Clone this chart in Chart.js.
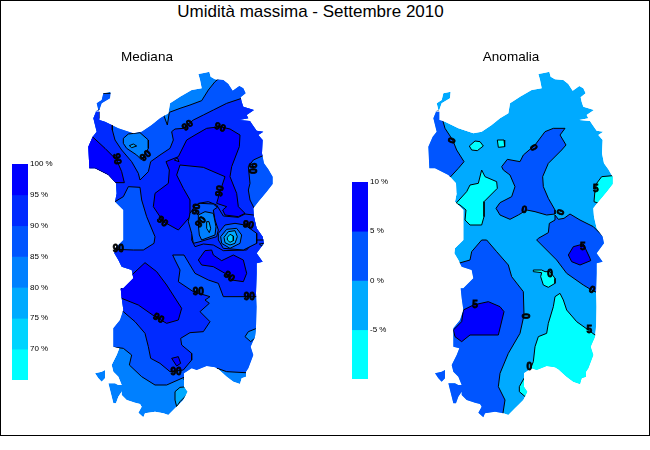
<!DOCTYPE html>
<html>
<head>
<meta charset="utf-8">
<title>Umidità massima - Settembre 2010</title>
<script src="https://cdn.jsdelivr.net/npm/chart.js@4"></script>
<style>
  html, body { margin: 0; padding: 0; background: #fff; }
  #frame { position: absolute; left: 0; top: 0; width: 650px; height: 436px; box-sizing: border-box; border: 1px solid #000; }
  #title { position: absolute; left: 0; top: 2px; width: 621px; text-align: center; font: 17px "Liberation Sans", Arial, sans-serif; color: #000; }
  canvas { position: absolute; }
</style>
</head>
<body>
<div id="frame"></div>
<div id="title">Umidità massima - Settembre 2010</div>
<canvas id="mapMediana" style="left:0;top:0"></canvas>
<canvas id="mapAnomalia" style="left:340px;top:0"></canvas>
<canvas id="barMediana" style="left:12px;top:154px"></canvas>
<canvas id="barAnomalia" style="left:352px;top:172px"></canvas>
<script>
// Coast outline, in map units (same units on both panels)
const COAST_MAIN = [[355,42],[375,38],[388,35],[392,50],[405,58],[430,60],[445,72],[458,92],[478,78],[490,85],[497,100],[482,112],[485,125],[490,140],[505,145],[522,150],[500,165],[505,175],[478,180],[510,183],[518,195],[530,212],[550,215],[535,225],[548,240],[546,280],[552,310],[565,328],[578,350],[578,372],[560,395],[535,425],[520,445],[522,470],[530,505],[548,530],[552,550],[530,580],[548,605],[530,610],[530,640],[528,700],[530,740],[528,800],[525,830],[512,860],[520,885],[505,925],[498,935],[498,950],[485,955],[480,972],[460,965],[440,950],[415,928],[405,922],[380,918],[350,930],[335,925],[312,940],[312,980],[322,995],[310,1020],[295,1035],[285,1045],[265,1065],[250,1060],[225,1055],[195,1060],[190,1072],[175,1058],[185,1040],[180,1032],[165,1028],[140,1020],[125,1005],[125,975],[115,950],[100,935],[95,915],[110,885],[118,865],[100,860],[100,805],[120,780],[130,750],[125,715],[122,685],[130,685],[160,655],[155,630],[125,620],[115,600],[103,580],[105,565],[130,540],[130,490],[130,450],[105,425],[110,400],[108,370],[85,345],[45,325],[28,325],[25,260],[38,230],[50,215],[40,175],[48,155],[58,155],[58,180],[75,185],[115,205],[160,220],[185,215],[215,195],[240,175],[265,160],[270,130],[300,110],[335,90],[365,85],[360,60]];
const COAST_ASINARA = [[45,155],[55,150],[50,130],[65,120],[70,100],[92,95],[90,115],[65,130],[58,150]];
const COAST_ANTIOCO = [[85,970],[105,970],[115,975],[130,975],[125,995],[115,1010],[108,1030],[100,1030],[90,990]];
const COAST_PIETRO = [[45,940],[65,935],[75,930],[75,955],[65,965],[55,955]];

// Mediana: filled classes, from the lowest up
const MED_85 = [[250,100],[253,170],[262,195],[268,157],[300,145],[330,135],[365,122],[385,90],[405,65],[450,30],[650,30],[650,938],[495,938],[440,935],[412,925],[412,960],[314,960],[312,952],[260,975],[225,975],[185,950],[148,915],[155,885],[130,865],[105,862],[0,862],[0,100]];
const MED_90 = [[485,115],[560,115],[560,282],[520,300],[505,320],[510,370],[505,390],[510,420],[525,450],[590,450],[590,710],[530,710],[495,710],[430,710],[415,670],[385,660],[345,640],[312,585],[278,585],[285,600],[300,630],[295,665],[340,695],[390,710],[375,720],[388,730],[360,755],[390,785],[370,815],[330,818],[302,835],[305,855],[335,880],[335,900],[310,930],[270,935],[240,910],[212,895],[205,860],[195,820],[165,785],[130,755],[0,755],[0,568],[105,568],[160,570],[190,570],[222,550],[225,530],[200,470],[185,420],[180,382],[145,380],[130,410],[105,425],[0,425],[0,150],[60,150],[60,175],[97,175],[97,210],[105,240],[125,270],[155,305],[175,340],[180,360],[205,335],[212,305],[240,285],[270,265],[280,240],[275,215],[285,207],[310,205],[340,180],[370,165],[400,150],[440,130]];
const MED_95_NORTH = [[258,305],[268,330],[265,370],[225,400],[220,440],[250,485],[295,510],[330,470],[330,420],[310,385],[290,345],[300,315],[370,322],[435,350],[420,395],[410,430],[440,440],[428,450],[435,465],[475,470],[495,460],[475,440],[470,400],[450,350],[455,320],[478,260],[480,225],[450,207],[420,200],[380,205],[345,225],[320,240],[295,290]];
const MED_95_WEST = [[35,228],[75,265],[110,300],[125,335],[133,368],[105,368],[85,345],[45,325],[10,325],[10,250]];
const MED_95_CENTRE = [[125,685],[150,650],[195,608],[230,635],[260,675],[305,745],[295,780],[260,790],[225,770],[175,735],[125,715],[110,700]];
const MED_95_EAST = [[355,600],[375,572],[395,570],[400,585],[425,602],[460,585],[490,600],[500,640],[490,665],[455,660],[435,640],[400,620],[365,615]];
const MED_95_SOUTH = [[275,895],[295,890],[302,910],[290,918]];
const MED_90_LOBES = [[335,540],[338,500],[342,470],[355,430],[385,425],[410,435],[430,468],[475,472],[495,462],[520,465],[560,470],[560,540],[525,540],[500,570],[430,572],[400,555],[370,552],[345,560]];
const MED_90_SPECK = [[283,300],[292,293],[297,305]];
const MED_LEFT_1 = [[347,435],[360,430],[400,432],[412,442],[400,450],[405,480],[415,510],[410,530],[360,545],[340,550],[335,520],[325,485],[330,460]];
const MED_LEFT_2 = [[355,465],[375,455],[400,460],[408,500],[405,525],[365,540],[358,525],[355,495]];
const MED_LEFT_3 = [[380,485],[387,485],[392,505],[388,518],[380,505]];
const MED_RING_1 = [[415,520],[435,495],[465,490],[495,495],[530,520],[530,550],[490,570],[430,565],[415,540]];
const MED_RING_2 = [[422,530],[440,508],[470,505],[485,525],[480,550],[450,565],[425,550]];
const MED_RING_3 = [[432,532],[445,515],[465,512],[472,530],[465,550],[450,555],[435,548]];
const MED_RING_4 = [[442,532],[450,523],[460,528],[460,542],[450,547],[442,540]];
const MED_85_NW = [[130,235],[145,222],[180,218],[205,240],[205,265],[185,300],[170,285],[140,265],[130,250]];
const MED_80_NW = [[148,257],[160,252],[170,258],[155,263]];
const MED_85_EAST = [[495,830],[505,815],[530,805],[530,830],[512,845]];
const MED_85_SPECK = [[538,552],[550,550],[548,560]];
const MED_75_SOUTH = [[285,995],[300,982],[325,980],[325,1000],[300,1025],[290,1040],[285,1020]];

// Mediana: isoline labels
const MED_LABEL_X = [323,420,110,197,515,420,350,247,363,505,115,447,355,235,508,288];
const MED_LABEL_Y = [197,203,297,288,325,393,448,485,487,495,568,650,698,775,712,937];
const MED_LABEL_TEXT = ['90','90','90','90','90','90','90','90','90','90','90','90','90','90','90','90'];
const MED_LABEL_ANGLE = [-40,20,80,-40,90,-80,-80,40,-50,10,0,40,0,30,0,0];

// Anomalia: filled classes
const ANO_NW = [[75,205],[98,240],[110,270],[132,305],[115,325],[90,352],[0,352],[0,152],[60,152]];
const ANO_CENTRE = [[245,320],[262,298],[300,305],[310,285],[345,255],[375,215],[400,205],[435,205],[420,225],[438,255],[425,270],[385,310],[368,350],[370,380],[385,415],[405,450],[405,462],[380,465],[345,455],[320,450],[295,465],[270,478],[240,465],[228,445],[240,428],[275,410],[285,380],[270,345],[250,330]];
const ANO_EAST = [[405,465],[415,478],[432,475],[450,462],[480,480],[520,500],[550,530],[700,530],[700,700],[535,700],[515,690],[490,675],[440,640],[410,600],[380,570],[350,540],[355,535],[385,518],[388,490],[405,480]];
const ANO_WEST = [[108,612],[150,600],[155,575],[185,540],[200,540],[230,575],[265,615],[275,650],[310,695],[312,765],[300,820],[265,880],[240,940],[235,980],[255,1020],[248,1065],[240,1110],[0,1110],[0,612]];
const ANO_EAST_CORE = [[445,585],[460,560],[490,552],[510,595],[512,602],[480,615],[455,605]];
const ANO_WEST_CORE = [[130,750],[160,735],[205,725],[240,740],[252,755],[235,825],[150,825],[125,845],[105,830],[100,810],[125,785]];
const ANO_LOW_NORTH = [[108,430],[140,395],[150,375],[175,370],[185,330],[195,350],[230,365],[232,385],[192,425],[192,470],[185,495],[150,495],[135,480],[138,450],[120,435]];
const ANO_LOW_A = [[148,258],[165,243],[180,245],[190,258],[172,272],[155,270]];
const ANO_LOW_B = [[232,240],[252,240],[254,260],[235,262]];
const ANO_LOW_EAST = [[545,350],[600,345],[600,400],[555,410],[535,430],[522,425],[525,390],[530,370]];
const ANO_LOW_SOUTH = [[405,710],[420,700],[430,720],[440,750],[470,785],[505,810],[525,825],[600,825],[600,1015],[330,1015],[318,1012],[298,995],[298,980],[312,955],[328,935],[340,905],[345,860],[355,830],[380,820],[385,790],[400,740]];
const ANO_LOW_MID = [[340,630],[365,630],[375,635],[390,635],[405,655],[405,670],[385,682],[370,675],[362,650],[365,638],[340,635]];

// Anomalia: isoline labels
const ANO_LABEL_X = [97,340,313,423,527,488,390,515,508,328,313,165];
const ANO_LABEL_Y = [242,263,450,457,388,562,643,690,810,923,768,735];
const ANO_LABEL_TEXT = ['0','0','0','0','5','5','0','0','5','0','0','5'];
const ANO_LABEL_ANGLE = [-70,60,10,-70,0,0,0,30,0,0,90,0];

// Colour bars
const MED_BAR_LOW = [95,90,85,80,75,70,65];
const MED_BAR_HIGH = [100,95,90,85,80,75,70];
const ANO_BAR_LOW = [5,0,-5,-10];
const ANO_BAR_HIGH = [10,5,0,-5];

const MED_COLORS = ['#0000FF','#002AFF','#0055FF','#0080FF','#00AAFF','#00D4FF','#00FFFF'];
const ANO_COLORS = ['#0000FF','#0055FF','#00AAFF','#00FFFF'];

const C95 = MED_COLORS[0], C90 = MED_COLORS[1], C85 = MED_COLORS[2], C80 = MED_COLORS[3], C75 = MED_COLORS[4], C70 = MED_COLORS[5];
const A5 = ANO_COLORS[0], A0 = ANO_COLORS[1], AM5 = ANO_COLORS[2], AM10 = ANO_COLORS[3];

const COAST_PARTS = [COAST_MAIN, COAST_ASINARA, COAST_ANTIOCO, COAST_PIETRO];

const MED_LAYERS = [
  [MED_85, C85], [MED_90, C90], [MED_90_LOBES, C90],
  [MED_95_NORTH, C95], [MED_95_WEST, C95], [MED_95_CENTRE, C95], [MED_95_EAST, C95], [MED_95_SOUTH, C95],
  [MED_90_SPECK, C90],
  [MED_LEFT_1, C85], [MED_LEFT_2, C80], [MED_LEFT_3, C75],
  [MED_RING_1, C85], [MED_RING_2, C80], [MED_RING_3, C75], [MED_RING_4, C70],
  [MED_85_NW, C80], [MED_80_NW, C75], [MED_85_EAST, C80], [MED_85_SPECK, C85], [MED_75_SOUTH, C75]
];
const ANO_LAYERS = [
  [ANO_NW, A0], [ANO_CENTRE, A0], [ANO_EAST, A0], [ANO_WEST, A0],
  [ANO_EAST_CORE, A5], [ANO_WEST_CORE, A5],
  [ANO_LOW_NORTH, AM10], [ANO_LOW_A, AM10], [ANO_LOW_B, AM10], [ANO_LOW_EAST, AM10], [ANO_LOW_SOUTH, AM10], [ANO_LOW_MID, AM10]
];

function polygon(points, color, lineWidth) {
  const closed = points.concat([points[0]]);
  return {
    data: closed.map(p => ({ x: p[0], y: p[1] })),
    showLine: true,
    fill: 'shape',
    backgroundColor: color,
    borderColor: '#000',
    borderWidth: lineWidth,
    pointRadius: 0,
    tension: 0
  };
}

// Clips the classes to the coast and writes the isoline labels and the panel name
function islandPlugin(labels, panelName, panelX) {
  return {
    id: 'island',
    beforeDatasetsDraw(chart) {
      const { x, y } = chart.scales;
      const ctx = chart.ctx;
      ctx.save();
      ctx.beginPath();
      COAST_PARTS.forEach(part => {
        part.forEach((p, i) => {
          const px = x.getPixelForValue(p[0]);
          const py = y.getPixelForValue(p[1]);
          if (i === 0) ctx.moveTo(px, py); else ctx.lineTo(px, py);
        });
        ctx.closePath();
      });
      ctx.clip();
    },
    afterDatasetsDraw(chart) {
      const { x, y } = chart.scales;
      const ctx = chart.ctx;
      ctx.restore();
      ctx.fillStyle = '#000';
      ctx.strokeStyle = '#000';
      ctx.lineWidth = 0.8;
      ctx.textAlign = 'center';
      ctx.textBaseline = 'middle';
      ctx.font = 'bold 10px "Liberation Sans", Arial, sans-serif';
      labels.x.forEach((lx, i) => {
        ctx.save();
        ctx.translate(x.getPixelForValue(lx), y.getPixelForValue(labels.y[i]));
        ctx.rotate(labels.angle[i] * Math.PI / 180);
        ctx.fillText(labels.text[i], 0, 0);
        ctx.strokeText(labels.text[i], 0, 0);
        ctx.restore();
      });
      ctx.font = '13.5px "Liberation Sans", Arial, sans-serif';
      ctx.fillText(panelName, x.getPixelForValue(panelX), y.getPixelForValue(-9));
    }
  };
}

function drawMap(canvasId, width, xMax, layers, baseColor, labels, panelName, panelX) {
  const canvas = document.getElementById(canvasId);
  canvas.width = width;
  canvas.height = 435;
  canvas.style.width = width + 'px';
  canvas.style.height = '435px';
  const datasets = COAST_PARTS.map(part => polygon(part, baseColor, 0))
    .concat(layers.map(l => polygon(l[0], l[1], 1)));
  // Chart.js paints the highest order first
  datasets.forEach((d, i) => { d.order = datasets.length - i; });
  new Chart(canvas, {
    type: 'scatter',
    data: { datasets },
    options: {
      responsive: false,
      animation: false,
      layout: { padding: 0 },
      scales: {
        x: { type: 'linear', display: false, min: -240, max: xMax },
        y: { type: 'linear', display: false, min: -180, max: 1125, reverse: true }
      },
      plugins: { legend: { display: false }, tooltip: { enabled: false } }
    },
    plugins: [islandPlugin(labels, panelName, panelX)]
  });
}

function drawBar(canvasId, height, low, high, colors, min, max) {
  const canvas = document.getElementById(canvasId);
  canvas.width = 60;
  canvas.height = height;
  canvas.style.width = '60px';
  canvas.style.height = height + 'px';
  new Chart(canvas, {
    type: 'bar',
    data: {
      labels: [''],
      datasets: low.map((lo, i) => ({
        data: [[lo, high[i]]],
        backgroundColor: colors[i],
        barPercentage: 1,
        categoryPercentage: 1,
        grouped: false,
        borderWidth: 0
      }))
    },
    options: {
      responsive: false,
      animation: false,
      layout: { padding: { top: 10, bottom: 8 } },
      scales: {
        x: { display: false },
        y: {
          position: 'right',
          min: min,
          max: max,
          afterFit(scale) { scale.width = 44; },
          grid: { display: false, drawTicks: false },
          border: { display: false },
          ticks: {
            stepSize: 5,
            autoSkip: false,
            padding: 2,
            color: '#000',
            font: { family: '"Liberation Sans", Arial, sans-serif', size: 8 },
            callback: v => (v === min ? '' : v + ' %')
          }
        }
      },
      plugins: { legend: { display: false }, tooltip: { enabled: false } }
    }
  });
}

drawMap('mapMediana', 340, 780, MED_LAYERS, C80,
  { x: MED_LABEL_X, y: MED_LABEL_Y, text: MED_LABEL_TEXT, angle: MED_LABEL_ANGLE }, 'Mediana', 201);
drawMap('mapAnomalia', 310, 690, ANO_LAYERS, AM5,
  { x: ANO_LABEL_X, y: ANO_LABEL_Y, text: ANO_LABEL_TEXT, angle: ANO_LABEL_ANGLE }, 'Anomalia', 273);
drawBar('barMediana', 234, MED_BAR_LOW, MED_BAR_HIGH, MED_COLORS, 65, 100);
drawBar('barAnomalia', 215, ANO_BAR_LOW, ANO_BAR_HIGH, ANO_COLORS, -10, 10);
</script>
</body>
</html>
